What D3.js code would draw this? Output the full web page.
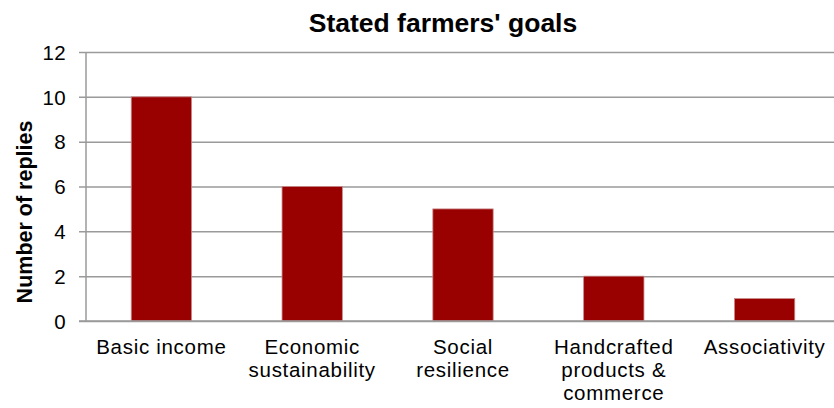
<!DOCTYPE html>
<html>
<head>
<meta charset="utf-8">
<script src="https://cdn.jsdelivr.net/npm/d3@7"></script>
<style>
  html, body { margin: 0; padding: 0; background: #fff; }
  svg { display: block; font-family: "Liberation Sans", Arial, sans-serif; }
</style>
</head>
<body>
<svg id="chart" width="834" height="408"></svg>
<script>
// Survey results: how many farmers named each goal
const categories = [
  ["Basic income"],
  ["Economic", "sustainability"],
  ["Social", "resilience"],
  ["Handcrafted", "products &", "commerce"],
  ["Associativity"]
];
const replies = [10, 6, 5, 2, 1];
const yTicks = [0, 2, 4, 6, 8, 10, 12];
const chartTitle = "Stated farmers' goals";
const yTitle = "Number of replies";

const svg = d3.select("#chart");
const margin = { left: 86, right: -6, top: 52, bottom: 87 };
const width = 834, height = 408;
const innerRight = width - margin.right;
const innerBottom = height - margin.bottom;

const keys = categories.map(c => c.join(" "));

const x = d3.scaleBand()
  .domain(keys)
  .range([margin.left, innerRight])
  .paddingInner(0.6)
  .paddingOuter(0.3);

const y = d3.scaleLinear()
  .domain([0, 12])
  .range([innerBottom, margin.top]);

// Horizontal gridlines with short outside ticks
const yAxis = d3.axisLeft(y)
  .tickValues(yTicks)
  .tickSize(-(innerRight - margin.left))
  .tickSizeOuter(0)
  .tickPadding(20)
  .tickFormat(d3.format("d"));

const gy = svg.append("g")
  .attr("transform", `translate(${margin.left},0)`)
  .call(yAxis);
gy.select(".domain").remove();
gy.selectAll(".tick line")
  .attr("x1", -7)
  .attr("stroke", "#9a9a9a")
  .attr("stroke-width", 1.5);
gy.selectAll(".tick text")
  .attr("font-size", 20.5)
  .attr("fill", "#000")
  .attr("dy", "0.35em")
  .style("letter-spacing", "0.3px");

// Vertical axis line
svg.append("line")
  .attr("x1", margin.left).attr("x2", margin.left)
  .attr("y1", y(12)).attr("y2", y(0))
  .attr("stroke", "#9a9a9a")
  .attr("stroke-width", 1.5);

// Bars
svg.append("g")
  .selectAll("rect")
  .data(replies)
  .join("rect")
  .attr("x", (d, i) => x(keys[i]))
  .attr("y", d => y(d))
  .attr("width", x.bandwidth())
  .attr("height", d => y(0) - y(d))
  .attr("fill", "#990000")
  .attr("stroke", "#c98a8a")
  .attr("stroke-width", 0.8);

// Baseline redrawn over bar bottoms
svg.append("line")
  .attr("x1", margin.left - 7).attr("x2", innerRight)
  .attr("y1", y(0)).attr("y2", y(0))
  .attr("stroke", "#9a9a9a")
  .attr("stroke-width", 1.5);

// Category labels, wrapped over several lines
const labels = svg.append("g")
  .selectAll("text")
  .data(categories)
  .join("text")
  .attr("text-anchor", "middle")
  .attr("font-size", 20.5)
  .attr("fill", "#000")
  .style("letter-spacing", "0.7px")
  .attr("transform", (d, i) => `translate(${x(keys[i]) + x.bandwidth() / 2},354)`);
labels.selectAll("tspan")
  .data(d => d)
  .join("tspan")
  .attr("x", 0)
  .attr("y", (d, j) => j * 23)
  .text(d => d);

// Chart title
svg.append("text")
  .attr("x", 443)
  .attr("y", 32)
  .attr("text-anchor", "middle")
  .attr("font-size", 26.5)
  .attr("font-weight", "bold")
  .text(chartTitle);

// Vertical axis title
svg.append("text")
  .attr("transform", "translate(32,212) rotate(-90)")
  .attr("text-anchor", "middle")
  .attr("font-size", 21.5)
  .attr("font-weight", "bold")
  .text(yTitle);
</script>
</body>
</html>
